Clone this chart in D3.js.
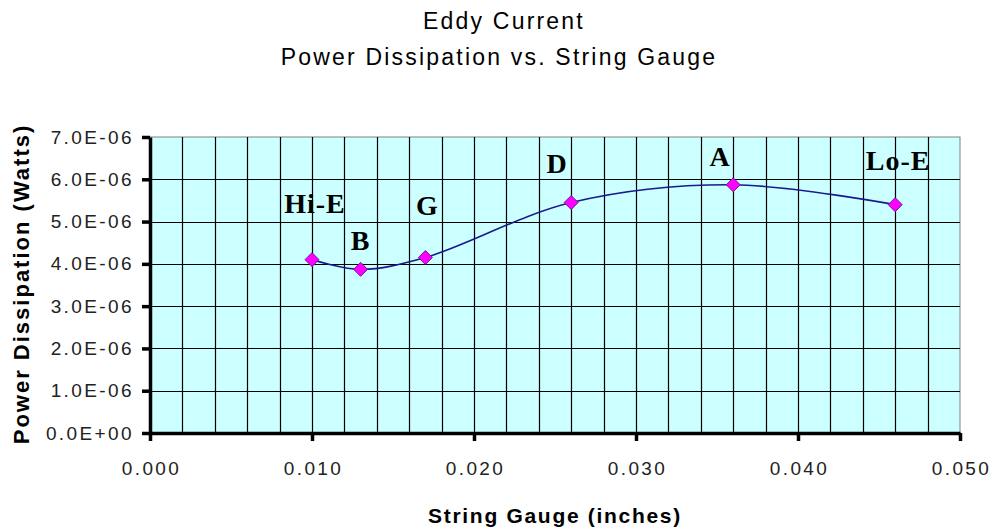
<!DOCTYPE html>
<html>
<head>
<meta charset="utf-8">
<script src="https://cdn.jsdelivr.net/npm/d3@7"></script>
<style>
  body { margin: 0; background: #fff; }
  svg { display: block; }
</style>
</head>
<body>
<div id="chart"></div>
<script>
// Data
const strings = ["Hi-E", "B", "G", "D", "A", "Lo-E"];
const gauges = [0.010, 0.013, 0.017, 0.026, 0.036, 0.046];
const power = [4.1e-6, 3.87e-6, 4.15e-6, 5.45e-6, 5.87e-6, 5.4e-6];
const xTicks = [0, 0.01, 0.02, 0.03, 0.04, 0.05];
const yTicks = [0, 1e-6, 2e-6, 3e-6, 4e-6, 5e-6, 6e-6, 7e-6];

const W = 991, H = 529;
const margin = { top: 137, right: 31, bottom: 96, left: 150 };
const width = W - margin.left - margin.right;
const height = H - margin.top - margin.bottom;

const sans = "'Liberation Sans', Arial, sans-serif";

const svg = d3.select("#chart")
    .append("svg")
    .attr("width", W)
    .attr("height", H);

const g = svg.append("g")
    .attr("transform", `translate(${margin.left},${margin.top})`);

const x = d3.scaleLinear().domain([0, 0.05]).range([0, width]);
const y = d3.scaleLinear().domain([0, 7e-6]).range([height, 0]);

// Plot background
g.append("rect")
    .attr("width", width)
    .attr("height", height)
    .attr("fill", "#ccffff")
    .attr("stroke", "#808080")
    .attr("stroke-width", 1);

// Grid lines
g.append("g")
    .selectAll("line")
    .data(d3.range(0.002, 0.05, 0.002))
    .enter()
    .append("line")
    .attr("x1", d => Math.round(x(d)) + 0.5)
    .attr("x2", d => Math.round(x(d)) + 0.5)
    .attr("y1", 0)
    .attr("y2", height)
    .attr("stroke", "#000")
    .attr("stroke-width", 1.2);

g.append("g")
    .selectAll("line")
    .data(yTicks.slice(1, -1))
    .enter()
    .append("line")
    .attr("x1", 0)
    .attr("x2", width)
    .attr("y1", d => Math.round(y(d)) + 0.5)
    .attr("y2", d => Math.round(y(d)) + 0.5)
    .attr("stroke", "#000")
    .attr("stroke-width", 1.2);

// Axes
const xAxis = g.append("g")
    .attr("transform", `translate(0,${height})`)
    .call(d3.axisBottom(x).tickValues(xTicks).tickFormat(d3.format(".3f")).tickSize(8).tickSizeOuter(0));

const yAxis = g.append("g")
    .call(d3.axisLeft(y).tickValues(yTicks)
        .tickFormat(d => d === 0 ? "0.0E+00" : (d * 1e6).toFixed(1) + "E-06")
        .tickSize(8).tickSizeOuter(0));

[xAxis, yAxis].forEach(a => {
    a.attr("font-family", sans).attr("font-size", 19);
    a.select(".domain").attr("stroke", "#000").attr("stroke-width", 3.5);
    a.selectAll(".tick line").attr("stroke", "#000").attr("stroke-width", 3.5);
    a.selectAll(".tick text")
        .attr("fill", "#222")
        .attr("letter-spacing", "2.4px");
});
xAxis.selectAll(".tick text").attr("dy", "1.65em").attr("dx", 1);
yAxis.selectAll(".tick text").attr("x", -16);

// Smoothed line
const line = d3.line()
    .x(i => x(gauges[i]))
    .y(i => y(power[i]))
    .curve(d3.curveCatmullRom);

g.append("path")
    .datum(d3.range(gauges.length))
    .attr("d", line)
    .attr("fill", "none")
    .attr("stroke", "#1a1a8a")
    .attr("stroke-width", 1.6);

// Diamond markers
g.selectAll(".marker")
    .data(d3.range(gauges.length))
    .enter()
    .append("path")
    .attr("class", "marker")
    .attr("transform", i => `translate(${x(gauges[i])},${y(power[i])})`)
    .attr("d", "M0,-7L7,0L0,7L-7,0Z")
    .attr("fill", "#ff00ff")
    .attr("stroke", "#6a1a9a")
    .attr("stroke-width", 1);

// Point labels
const labelOffsets = [[3, -47], [0, -19], [2, -43], [-14, -30], [-13, -19], [3, -35]];
g.selectAll(".lbl")
    .data(d3.range(strings.length))
    .enter()
    .append("text")
    .attr("x", i => x(gauges[i]) + labelOffsets[i][0])
    .attr("y", i => y(power[i]) + labelOffsets[i][1])
    .attr("text-anchor", "middle")
    .attr("font-family", "'Liberation Serif', 'Times New Roman', serif")
    .attr("font-weight", "bold")
    .attr("font-size", 28)
    .attr("letter-spacing", "1px")
    .text(i => strings[i]);

// Titles
svg.append("text")
    .attr("x", 504).attr("y", 29)
    .attr("text-anchor", "middle")
    .attr("font-family", sans)
    .attr("font-size", 23)
    .attr("letter-spacing", "2.2px")
    .text("Eddy Current");

svg.append("text")
    .attr("x", 499).attr("y", 65)
    .attr("text-anchor", "middle")
    .attr("font-family", sans)
    .attr("font-size", 23)
    .attr("letter-spacing", "2.2px")
    .text("Power Dissipation vs. String Gauge");

svg.append("text")
    .attr("x", 555).attr("y", 523)
    .attr("text-anchor", "middle")
    .attr("font-family", sans)
    .attr("font-weight", "bold")
    .attr("font-size", 21)
    .attr("letter-spacing", "1.7px")
    .text("String Gauge (inches)");

svg.append("text")
    .attr("transform", "translate(29,284) rotate(-90)")
    .attr("text-anchor", "middle")
    .attr("font-family", sans)
    .attr("font-weight", "bold")
    .attr("font-size", 22)
    .attr("letter-spacing", "2px")
    .text("Power Dissipation (Watts)");
</script>
</body>
</html>
